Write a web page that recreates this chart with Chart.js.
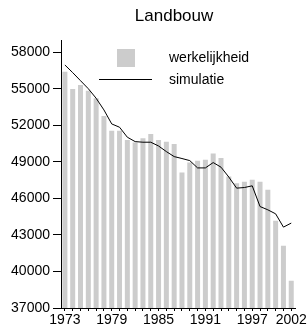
<!DOCTYPE html>
<html>
<head>
<meta charset="utf-8">
<script src="https://cdn.jsdelivr.net/npm/chart.js@4.4.1/dist/chart.umd.min.js"></script>
<style>
  html, body { margin: 0; padding: 0; background: #fff; }
  #wrap { width: 308px; height: 332px; }
</style>
</head>
<body>
<div id="wrap"><canvas id="chart" width="308" height="332"></canvas></div>
<script>
const title = 'Landbouw';
const years = ['1973','1974','1975','1976','1977','1978','1979','1980','1981','1982',
               '1983','1984','1985','1986','1987','1988','1989','1990','1991','1992',
               '1993','1994','1995','1996','1997','1998','1999','2000','2001','2002'];
const shownYears = ['1973','1979','1985','1991','1997','2002'];
const werkelijkheid = [56400, 54980, 55310, 54840, 54220, 52770, 51560, 51560, 50800, 50580,
                       50940, 51290, 50800, 50640, 50470, 48120, 48940, 49080, 49160, 49680,
                       49320, 47790, 47250, 47360, 47520, 47360, 46700, 44160, 42110, 39240];
const simulatie = [56950, 56320, 55660, 55000, 54220, 53260, 52110, 51840, 51020, 50660,
                   50610, 50610, 50300, 49840, 49430, 49270, 49100, 48500, 48500, 48940,
                   48560, 47750, 46840, 46890, 47030, 45330, 45060, 44730, 43640, 43970];
const yTicks = [37000, 40000, 43000, 46000, 49000, 52000, 55000, 58000];

const FONT = '"Liberation Sans", Arial, Helvetica, sans-serif';

// legend + title drawn by hand, the picture places them inside the plot
const legendPlugin = {
    id: 'handLegend',
    afterDraw(chart) {
        const ctx = chart.ctx;
        const area = chart.chartArea;
        const ds = chart.data.datasets;
        ctx.save();
        ctx.fillStyle = '#000';
        ctx.font = '17px ' + FONT;
        ctx.textAlign = 'center';
        ctx.textBaseline = 'middle';
        ctx.fillText(title, (area.left + area.right) / 2 - 4, 16);

        ctx.fillStyle = ds[0].backgroundColor;
        ctx.fillRect(117, 49, 18, 18);
        ctx.strokeStyle = ds[1].borderColor;
        ctx.lineWidth = 1;
        ctx.beginPath();
        ctx.moveTo(99, 79.5);
        ctx.lineTo(152, 79.5);
        ctx.stroke();

        ctx.fillStyle = '#000';
        ctx.font = '14px ' + FONT;
        ctx.textAlign = 'left';
        ctx.fillText(ds[0].label, 169, 58);
        ctx.fillText(ds[1].label, 169, 80);
        ctx.restore();
    }
};

const ctx = document.getElementById('chart').getContext('2d');
new Chart(ctx, {
    type: 'bar',
    data: {
        labels: years,
        datasets: [
            { label: 'werkelijkheid', data: werkelijkheid, backgroundColor: '#cccccc',
              barPercentage: 0.64, categoryPercentage: 1, order: 1 },
            { type: 'line', label: 'simulatie', data: simulatie, borderColor: '#000000',
              borderWidth: 1, pointRadius: 0, tension: 0, fill: false, order: 0 }
        ]
    },
    options: {
        responsive: false,
        animation: false,
        layout: { padding: { top: 40, right: 11, left: 0, bottom: 0 } },
        plugins: { legend: { display: false }, tooltip: { enabled: false }, title: { display: false } },
        scales: {
            x: {
                grid: { display: true, drawOnChartArea: false, offset: false, tickLength: 3, color: '#000' },
                border: { color: '#000', width: 1, dash: [5, 2.87], dashOffset: 6.5 },
                ticks: {
                    autoSkip: false, maxRotation: 0, padding: 1, color: '#000',
                    font: { family: FONT, size: 14 },
                    callback: function (v, i) { return shownYears.includes(years[i]) ? years[i] : ''; }
                },
                afterFit: function (s) { s.height = 24; }
            },
            y: {
                min: 37000, max: 59000,
                grid: { display: true, drawOnChartArea: false, tickLength: 8, color: '#000' },
                border: { color: '#000', width: 1 },
                ticks: {
                    padding: 3, color: '#000', font: { family: FONT, size: 14 },
                    callback: function (v) { return String(v); }
                },
                afterBuildTicks: function (axis) { axis.ticks = yTicks.map(v => ({ value: v })); },
                afterFit: function (s) { s.width = 61; }
            }
        }
    },
    plugins: [legendPlugin]
});
</script>
</body>
</html>
